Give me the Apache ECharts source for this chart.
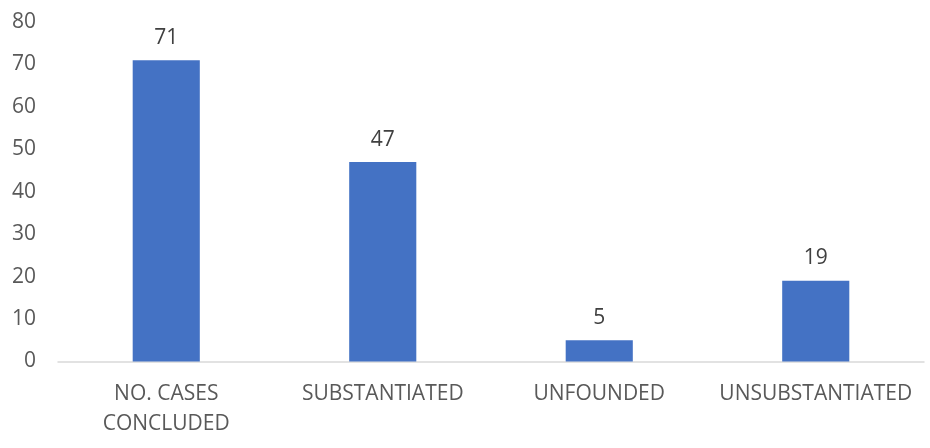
<!DOCTYPE html>
<html>
<head>
<meta charset="utf-8">
<script src="https://cdn.jsdelivr.net/npm/echarts@6/dist/echarts.min.js"></script>
<style>
  html, body { margin: 0; padding: 0; background: #fff; }
  #chart { width: 930px; height: 448px; }
</style>
</head>
<body>
<div id="chart"></div>
<script>
// Case outcomes
const categories = ['NO. CASES\nCONCLUDED', 'SUBSTANTIATED', 'UNFOUNDED', 'UNSUBSTANTIATED'];
const caseCounts = [71, 47, 5, 19];
const yTicks = { min: 0, max: 80, interval: 10 };

const fontFamily = '"Open Sans", "Noto Sans", sans-serif';

const chart = echarts.init(document.getElementById('chart'));
chart.setOption({
  animation: false,
  grid: { left: 58, right: 6, top: 22, bottom: 86.5, containLabel: false },
  xAxis: {
    type: 'category',
    data: categories,
    axisLine: { show: true, lineStyle: { color: '#d9d9d9', width: 1.5 } },
    axisTick: { show: false },
    axisLabel: {
      color: '#595959',
      fontSize: 21,
      fontFamily: fontFamily,
      lineHeight: 30,
      margin: 18,
      interval: 0
    }
  },
  yAxis: {
    type: 'value',
    min: yTicks.min,
    max: yTicks.max,
    interval: yTicks.interval,
    splitLine: { show: false },
    axisLine: { show: false },
    axisTick: { show: false },
    axisLabel: {
      color: '#595959',
      fontSize: 21,
      fontFamily: fontFamily,
      margin: 22
    }
  },
  series: [{
    type: 'bar',
    data: caseCounts,
    barWidth: '31%',
    itemStyle: { color: '#4472C4' },
    label: {
      show: true,
      position: 'top',
      distance: 12,
      color: '#404040',
      fontSize: 21,
      fontFamily: fontFamily
    }
  }]
});
</script>
</body>
</html>
